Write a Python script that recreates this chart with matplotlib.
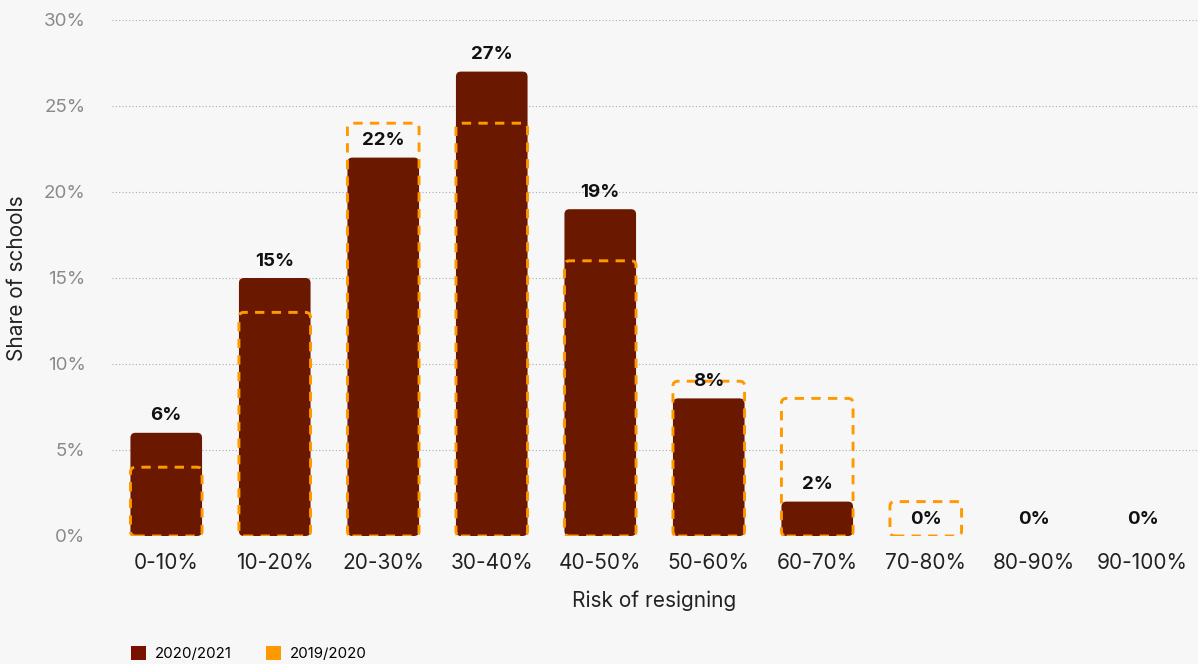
import matplotlib
matplotlib.use("Agg")
import matplotlib.pyplot as plt
from matplotlib.patches import FancyBboxPatch, Patch
from matplotlib.ticker import FuncFormatter

categories = ["0-10%", "10-20%", "20-30%", "30-40%", "40-50%", "50-60%",
              "60-70%", "70-80%", "80-90%", "90-100%"]
values_2021 = [6, 15, 22, 27, 19, 8, 2, 0, 0, 0]
values_2020 = [4, 13, 24, 24, 16, 9, 8, 2, 0, 0]
yticks = [0, 5, 10, 15, 20, 25, 30]

BG = "#f7f7f7"
DARK = "#6b1800"
ORANGE = "#ff9900"

plt.rcParams['font.family'] = ['Inter', 'DejaVu Sans']

fig = plt.figure(figsize=(11.98, 6.64), dpi=100, facecolor=BG)
ax = fig.add_axes([112/1198, 1-536/664, (1197-112)/1198, 516/664])
ax.set_facecolor(BG)
ax.set_xlim(-0.5, 9.5)
ax.set_ylim(0, 30)

px_per_x = (1197-112)/10
px_per_y = 516/30
aspect = px_per_x/px_per_y
r = 5/px_per_x
w = 0.66

for i, v in enumerate(values_2021):
    if v > 0:
        p = FancyBboxPatch((i-w/2, 0), w, v, boxstyle=f"round,pad=0,rounding_size={r}",
                           mutation_aspect=aspect, facecolor=DARK, edgecolor="none", zorder=2)
        ax.add_patch(p)
for i, v in enumerate(values_2020):
    if v > 0:
        p = FancyBboxPatch((i-w/2, 0), w, v, boxstyle=f"round,pad=0,rounding_size={r}",
                           mutation_aspect=aspect, facecolor="none", edgecolor=ORANGE,
                           linewidth=2.1, linestyle=(0, (3.2, 2.5)), zorder=3)
        ax.add_patch(p)

for i, v in enumerate(values_2021):
    ax.annotate(f"{v}%", (i, v), xytext=(0, 6), textcoords="offset points",
                ha="center", va="bottom", fontsize=13.5, fontweight="bold", color="#111111", zorder=4)

ax.set_xticks(range(len(categories)))
ax.set_xticklabels(categories, fontsize=15, color="#222222")
ax.set_yticks(yticks)
ax.yaxis.set_major_formatter(FuncFormatter(lambda v, p: f"{int(v)}%"))
ax.tick_params(axis="y", labelsize=13.5, labelcolor="#8a8a8a", length=0, pad=19)
ax.tick_params(axis="x", length=0, pad=12)
for y in yticks[1:]:
    ax.axhline(y, color="#aaaaaa", linestyle=(0, (1, 2)), linewidth=0.8, zorder=1)
for s in ax.spines.values():
    s.set_visible(False)

ax.set_xlabel("Risk of resigning", fontsize=15, color="#222222", labelpad=13)
ax.set_ylabel("Share of schools", fontsize=15, color="#222222", labelpad=12)

handles = [Patch(facecolor="#7a1000", label="2020/2021"), Patch(facecolor=ORANGE, label="2019/2020")]
fig.legend(handles=handles, loc="lower left", bbox_to_anchor=(117/1198, -0.016), ncol=2, frameon=False,
           fontsize=10.8, handlelength=1.0, handleheight=1.0, columnspacing=2.3, handletextpad=0.6)

fig.savefig("out.png", dpi=100, facecolor=BG)
